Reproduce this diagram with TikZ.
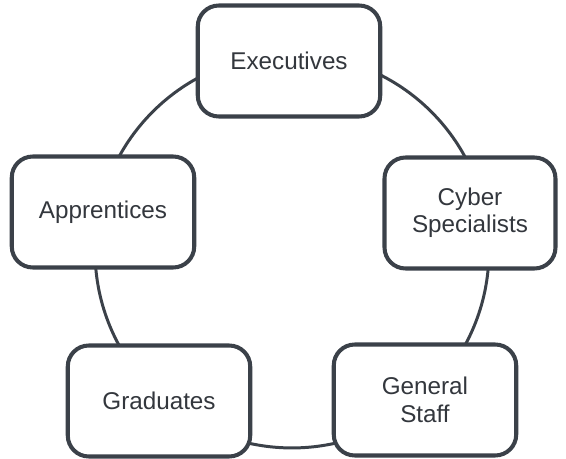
\documentclass[tikz,border=0pt]{standalone}
\usepackage{fontspec}
\setmainfont{Liberation Sans}
\usepackage{tikz}
\usepackage{xcolor}
\usetikzlibrary{positioning}

\definecolor{ringgray}{HTML}{3B4149}
\definecolor{textgray}{HTML}{33373D}

\tikzset{
  stage/.style={draw=ringgray, line width=2.3pt, rounded corners=0.42cm, fill=white,
    minimum width=3.65cm, minimum height=2.22cm, align=center, text=textgray,
    font=\fontsize{13.8}{15.6}\selectfont},
  ring/.style={draw=ringgray, line width=1.7pt}
}

\begin{document}
\begin{tikzpicture}[x=0.02cm, y=-0.02cm]
\useasboundingbox (0,0) rectangle (566,459);

% Ring
\coordinate (hub) at (292,251);
\draw[ring] (hub) circle[radius=3.94cm];

% Stages
\node[stage] (exec) at (289,61) {Executives};
\node[stage, minimum width=3.42cm] (cyber) at (470,213) {Cyber\\Specialists};
\node[stage] (staff) at (425,400) {General\\Staff};
\node[stage] (grad) at (159,401) {Graduates};
\node[stage] (appr) at (103,212) {Apprentices};
\end{tikzpicture}
\end{document}
